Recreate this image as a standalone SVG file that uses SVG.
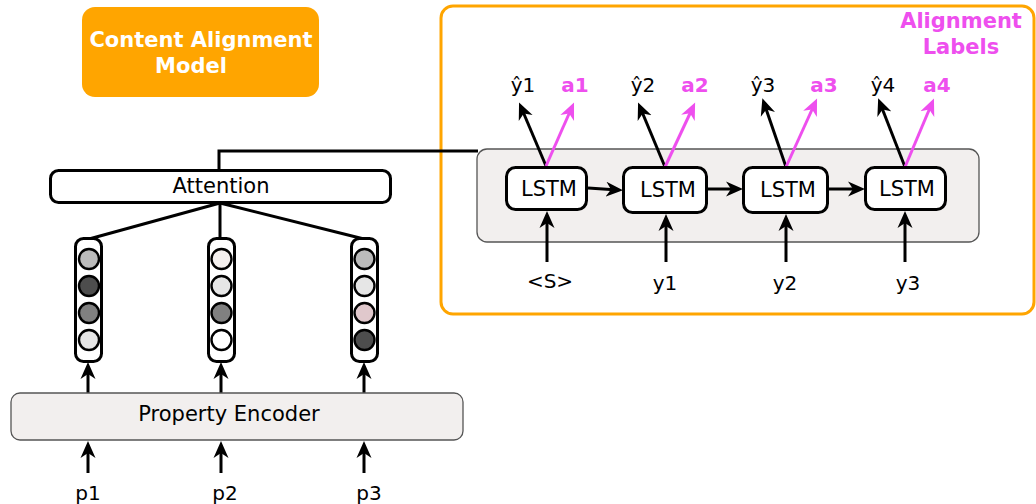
<svg xmlns="http://www.w3.org/2000/svg" width="1036" height="504" viewBox="0 0 1036 504">
  <style>
    text { font-family: "DejaVu Sans", "Liberation Sans", sans-serif; fill: #000; }
    .lbl { font-size: 20px; text-anchor: middle; }
    .big { font-size: 21px; text-anchor: middle; }
    .bold { font-weight: bold; }
    .mag { fill: #ee4fee; }
    .white { fill: #fff; }
    .box { fill: #fff; stroke: #000; stroke-width: 3; }
    .panel { fill: #f2efee; stroke: #555; stroke-width: 1.3; }
    .cell { stroke: #000; stroke-width: 2.4; }
    .wire { fill: none; stroke: #000; stroke-width: 3; }
    .arr { fill: none; stroke: #000; stroke-width: 3; marker-end: url(#ah); }
    .arrm { fill: none; stroke: #ee4fee; stroke-width: 3; marker-end: url(#ahm); }
  </style>
  <defs>
    <marker id="ah" markerUnits="userSpaceOnUse" markerWidth="18" markerHeight="16" viewBox="0 -8 18 16" refX="12" refY="0" orient="auto">
      <path d="M0,-7.5 L17,0 L0,7.5 L5,0 Z" fill="#000"/>
    </marker>
    <marker id="ahm" markerUnits="userSpaceOnUse" markerWidth="18" markerHeight="16" viewBox="0 -8 18 16" refX="12" refY="0" orient="auto">
      <path d="M0,-7.5 L17,0 L0,7.5 L5,0 Z" fill="#ee4fee"/>
    </marker>
  </defs>

  <!-- title badge -->
  <g id="title">
    <rect x="82" y="7" width="237" height="90" rx="13" fill="#ffa500"/>
    <text class="white bold" x="201" y="47" font-size="21" text-anchor="middle">Content Alignment</text>
    <text class="white bold" x="191" y="73" font-size="21" text-anchor="middle">Model</text>
  </g>

  <!-- decoder frame -->
  <g id="decoder-frame">
    <rect x="441" y="6" width="593" height="308" rx="12" fill="none" stroke="#ffa500" stroke-width="3"/>
    <text class="mag bold" x="961" y="28" font-size="21" text-anchor="middle">Alignment</text>
    <text class="mag bold" x="961" y="54" font-size="21" text-anchor="middle">Labels</text>
  </g>

  <!-- connectors -->
  <g id="connectors">
    <polyline class="wire" points="219,170 219,151 478,151"/>
    <line class="wire" x1="220" y1="203" x2="89" y2="239"/>
    <line class="wire" x1="220" y1="203" x2="220" y2="239"/>
    <line class="wire" x1="220" y1="203" x2="364" y2="239"/>
    <!-- encoder to vectors -->
    <line class="arr" x1="88" y1="393" x2="88" y2="367"/>
    <line class="arr" x1="221" y1="393" x2="221" y2="367"/>
    <line class="arr" x1="364" y1="393" x2="364" y2="367"/>
    <!-- properties into encoder -->
    <line class="arr" x1="88" y1="473" x2="88" y2="446"/>
    <line class="arr" x1="221" y1="473" x2="221" y2="446"/>
    <line class="arr" x1="364" y1="473" x2="364" y2="446"/>
  </g>

  <!-- encoder -->
  <g id="property-encoder">
    <rect class="panel" x="11" y="393" width="452" height="47" rx="9"/>
    <text class="big" x="229" y="421">Property Encoder</text>
  </g>

  <!-- encoded property vectors -->
  <g id="vector-p1">
    <rect class="box" x="75.5" y="238.5" width="26" height="123" rx="8"/>
    <circle class="cell" cx="89" cy="259" r="10" fill="#bbbbbb"/>
    <circle class="cell" cx="89" cy="286" r="10" fill="#4d4d4d"/>
    <circle class="cell" cx="89" cy="313" r="10" fill="#808080"/>
    <circle class="cell" cx="89" cy="340" r="10" fill="#e6e6e6"/>
  </g>
  <g id="vector-p2">
    <rect class="box" x="208.5" y="238.5" width="26" height="123" rx="8"/>
    <circle class="cell" cx="221.5" cy="259" r="10" fill="#f4f0ef"/>
    <circle class="cell" cx="221.5" cy="286" r="10" fill="#e6e6e6"/>
    <circle class="cell" cx="221.5" cy="313" r="10" fill="#808080"/>
    <circle class="cell" cx="221.5" cy="340" r="10" fill="#ffffff"/>
  </g>
  <g id="vector-p3">
    <rect class="box" x="351.5" y="238.5" width="26" height="123" rx="8"/>
    <circle class="cell" cx="364.5" cy="259" r="10" fill="#bbbbbb"/>
    <circle class="cell" cx="364.5" cy="286" r="10" fill="#e6e6e6"/>
    <circle class="cell" cx="364.5" cy="313" r="10" fill="#e0c8cc"/>
    <circle class="cell" cx="364.5" cy="340" r="10" fill="#4d4d4d"/>
  </g>

  <!-- attention -->
  <g id="attention">
    <rect class="box" x="50.5" y="170.5" width="340" height="32" rx="8"/>
    <text class="big" x="221" y="193">Attention</text>
  </g>

  <!-- property labels -->
  <g id="inputs">
    <text class="lbl" x="88" y="500">p1</text>
    <text class="lbl" x="225" y="500">p2</text>
    <text class="lbl" x="369" y="500">p3</text>
  </g>

  <!-- LSTM decoder -->
  <g id="lstm-panel">
    <rect class="panel" x="477" y="149" width="502" height="93" rx="10"/>
  </g>

  <g id="decoder-connectors">
    <!-- recurrent links -->
    <line class="arr" x1="588" y1="188" x2="618" y2="190"/>
    <line class="arr" x1="708" y1="189" x2="738" y2="189"/>
    <line class="arr" x1="829" y1="189" x2="860" y2="189"/>
    <!-- token inputs -->
    <line class="arr" x1="547" y1="262" x2="547" y2="216"/>
    <line class="arr" x1="666" y1="262" x2="666" y2="219"/>
    <line class="arr" x1="786" y1="262" x2="786" y2="219"/>
    <line class="arr" x1="905" y1="262" x2="905" y2="216"/>
    <!-- word outputs -->
    <line class="arr" x1="546" y1="166" x2="521" y2="107"/>
    <line class="arr" x1="665" y1="167" x2="640" y2="107"/>
    <line class="arr" x1="786" y1="167" x2="764" y2="103"/>
    <line class="arr" x1="905" y1="167" x2="880" y2="103"/>
    <!-- alignment outputs -->
    <line class="arrm" x1="546" y1="166" x2="572" y2="107"/>
    <line class="arrm" x1="665" y1="167" x2="693" y2="107"/>
    <line class="arrm" x1="786" y1="167" x2="815" y2="103"/>
    <line class="arrm" x1="905" y1="167" x2="932" y2="103"/>
  </g>

  <g id="lstm-1">
    <rect class="box" x="506.5" y="167.5" width="80" height="42" rx="9"/>
    <text class="big" x="549" y="196">LSTM</text>
  </g>
  <g id="lstm-2">
    <rect class="box" x="623.5" y="167.5" width="83" height="45" rx="9"/>
    <text class="big" x="668" y="197">LSTM</text>
  </g>
  <g id="lstm-3">
    <rect class="box" x="743.5" y="167.5" width="84" height="45" rx="9"/>
    <text class="big" x="788" y="197">LSTM</text>
  </g>
  <g id="lstm-4">
    <rect class="box" x="865.5" y="167.5" width="80" height="42" rx="9"/>
    <text class="big" x="907" y="196">LSTM</text>
  </g>

  <!-- decoder labels -->
  <g id="decoder-labels">
    <text class="lbl" x="550" y="288">&lt;S&gt;</text>
    <text class="lbl" x="665" y="290">y1</text>
    <text class="lbl" x="785" y="290">y2</text>
    <text class="lbl" x="908" y="290">y3</text>
    <text class="lbl" x="523" y="92">ŷ1</text>
    <text class="lbl" x="643" y="92">ŷ2</text>
    <text class="lbl" x="763" y="92">ŷ3</text>
    <text class="lbl" x="883" y="92">ŷ4</text>
    <text class="lbl mag bold" x="575" y="92">a1</text>
    <text class="lbl mag bold" x="695" y="92">a2</text>
    <text class="lbl mag bold" x="824" y="92">a3</text>
    <text class="lbl mag bold" x="937" y="92">a4</text>
  </g>
</svg>
